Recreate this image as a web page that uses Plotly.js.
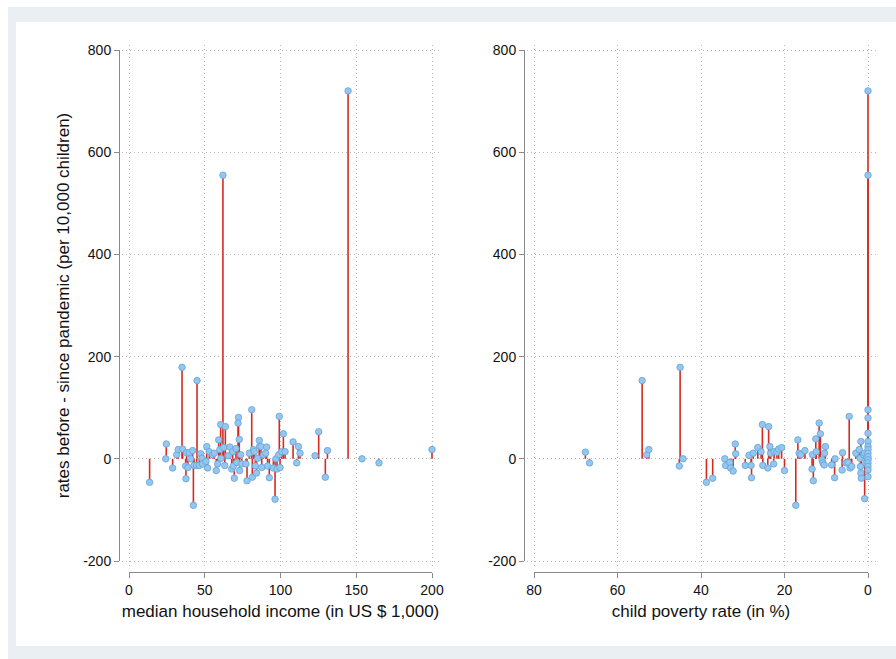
<!DOCTYPE html>
<html>
<head>
<meta charset="utf-8">
<script src="https://cdn.plot.ly/plotly-3.0.1.min.js"></script>
<style>html,body{margin:0;padding:0;background:#fff;}#chart{width:896px;height:659px;}</style>
</head>
<body>
<div id="chart"></div>
<script>
// ---- data ----
const incomeK = [13.6,24.6,24.3,28.8,31.5,32.5,35,35.4,37.4,37.6,38,38.9,39.8,40.7,42,42.5,42.9,44.9,44.7,46.4,47.3,48.2,48.6,50.8,51.3,51.9,53,55.2,56.3,57.6,58.5,59.2,60,60.5,60.7,62,62.5,63.6,63.2,65.5,66.6,67.8,68.4,68.9,69.5,70.6,71.1,72.3,72.0,72.8,73.0,73.7,74.4,77.2,77.9,79.4,81,81.4,82.1,82.7,83.4,84.2,84.9,86,86.2,87.1,87.6,88.7,90.2,90.9,91.5,92.6,95.3,96.4,97,97.7,99.2,98.8,99.7,100.8,101.9,103,108.3,110.7,111.8,112.9,122.8,125.2,129.6,131,144.6,153.8,165,200];
const rateDiffByIncome = [-46,29,0,-18,8,18,179,19,-14,-39,12,-17,12,0,16,-91,-13,153,-13,-13,10,1,-10,-5,24,-18,14,8,11,-23,-10,37,18,67,1,555,22,63,-13,6,23,-20,14,-14,-38,20,-7,81,70,38,-23,8,-10,-10,-43,11,96,-36,18,14,-14,-28,1,36,24,24,-17,8,11,23,-14,-37,-18,-79,0,-20,83,8,-17,14,49,14,33,-8,24,11,6,53,-36,16,720,0,-8,18];

const povertyPct = [67.7,66.7,54.1,53.0,52.5,45.0,45.2,44.3,38.7,37.2,34.3,34.1,33.1,32.9,32.3,31.8,31.7,29.4,28.5,28.0,27.9,27.5,26.4,25.6,25.3,25.2,24.0,23.8,23.5,23.3,22.6,22.5,21.8,21.4,20.7,20.0,17.3,16.8,16.5,16.1,15.1,13.4,13.1,13.3,12.5,12.4,11.7,11.4,11.0,10.8,10.4,10.2,10.5,8.7,8.0,7.9,6.1,6.2,5.3,4.8,4.5,4.3,3.9,2.9,2.1,1.9,1.7,1.8,1.7,1.6,1.1,0.8,0.8,0.5,0.3,0,0,0,0,0,0,0,0,0,0,0,0,0,0,0];
const rateDiffByPoverty = [13,-8,153,8,18,179,-14,0,-46,-38,0,-13,-7,-18,-24,29,10,-13,7,-13,-37,11,22,14,67,-13,-18,63,24,11,-10,14,13,19,22,-23,-91,37,11,8,16,-20,-43,8,39,14,70,49,-2,-8,11,24,-12,-12,-37,0,12,-22,-8,-7,83,-18,-15,11,18,1,34,-15,-28,-38,8,-78,11,-8,3,720,555,96,80,50,34,24,18,11,4,-2,-8,-15,-22,-35];

const incomeTicks = [0,50,100,150,200];
const incomeTickLabels = ['0','50','100','150','200'];
const povertyTicks = [0,20,40,60,80];
const povertyTickLabels = ['0','20','40','60','80'];
const rateTicks = [-200,0,200,400,600,800];
const rateTickLabels = ['-200','0','200','400','600','800'];

const yTitle = 'rates before - since pandemic (per 10,000 children)';
const xTitleIncome = 'median household income (in US $ 1,000)';
const xTitlePoverty = 'child poverty rate (in %)';

// ---- geometry helpers (pixels -> paper fractions) ----
const W = 896, H = 659;
const fx = p => p / W;
const fy = p => 1 - p / H;

const yTopPx = 50, yBotPx = 561;
const yPerPx = 1000 / (yBotPx - yTopPx);
const gridTop = 45, gridBot = 567;
const yRangeGrid = [-200 - (gridBot - yBotPx) * yPerPx, 800 + (yTopPx - gridTop) * yPerPx];

const L0 = 129, L1 = 432;
const lPer = 200 / (L1 - L0);
const lg0 = 122, lg1 = 440;
const xRangeLeft = [0 - (L0 - lg0) * lPer, 200 + (lg1 - L1) * lPer];

const R0 = 534, R1 = 868;
const rPer = 80 / (R1 - R0);
const rg0 = 527, rg1 = 876;
const xRangeRight = [80 + (R0 - rg0) * rPer, 0 - (rg1 - R1) * rPer];

function stems(vals) {
  return {
    type: 'data', symmetric: false, visible: true,
    array: vals.map(v => v < 0 ? -v : 0),
    arrayminus: vals.map(v => v > 0 ? v : 0),
    width: 0, thickness: 1.6, color: '#d62a20'
  };
}
const marker = {size: 6.5, color: '#94c6ee', line: {color: '#64a3da', width: 0.8}};

const traces = [
  {type: 'scatter', mode: 'markers', x: incomeK, y: rateDiffByIncome, xaxis: 'x', yaxis: 'y',
   marker: marker, error_y: stems(rateDiffByIncome), cliponaxis: false, hoverinfo: 'x+y', showlegend: false},
  {type: 'scatter', mode: 'markers', x: povertyPct, y: rateDiffByPoverty, xaxis: 'x2', yaxis: 'y2',
   marker: marker, error_y: stems(rateDiffByPoverty), cliponaxis: false, hoverinfo: 'x+y', showlegend: false},
  {type: 'scatter', mode: 'markers', x: [], y: [], xaxis: 'x3', yaxis: 'y3', showlegend: false, hoverinfo: 'skip'},
  {type: 'scatter', mode: 'markers', x: [], y: [], xaxis: 'x4', yaxis: 'y4', showlegend: false, hoverinfo: 'skip'}
];

const font = 'Liberation Sans, Arial, Helvetica, sans-serif';
const gridAxis = {
  showgrid: true, gridcolor: '#b8b8b8', griddash: '1px,3px', gridwidth: 1,
  zeroline: false, showline: false, ticks: '', showticklabels: false, tickmode: 'array', fixedrange: true
};
const tickAxis = {
  showgrid: false, zeroline: false, showline: true, linecolor: '#8a8a8a', linewidth: 1,
  ticks: 'outside', ticklen: 5, tickwidth: 1, tickcolor: '#8a8a8a', tickmode: 'array',
  tickfont: {family: font, size: 14, color: '#111'}, anchor: 'free', fixedrange: true
};

const layout = {
  width: W, height: H,
  margin: {l: 0, r: 0, t: 0, b: 0},
  paper_bgcolor: '#ffffff', plot_bgcolor: 'rgba(0,0,0,0)',
  showlegend: false,
  font: {family: font, color: '#111'},
  xaxis: Object.assign({}, gridAxis, {domain: [fx(lg0), fx(lg1)], range: xRangeLeft, tickvals: incomeTicks, anchor: 'y'}),
  yaxis: Object.assign({}, gridAxis, {domain: [fy(gridBot), fy(gridTop)], range: yRangeGrid, tickvals: rateTicks, anchor: 'x'}),
  xaxis2: Object.assign({}, gridAxis, {domain: [fx(rg0), fx(rg1)], range: xRangeRight, tickvals: povertyTicks, anchor: 'y2'}),
  yaxis2: Object.assign({}, gridAxis, {domain: [fy(gridBot), fy(gridTop)], range: yRangeGrid, tickvals: rateTicks, anchor: 'x2'}),
  xaxis3: Object.assign({}, tickAxis, {domain: [fx(L0), fx(L1)], range: [0, 200], position: fy(572),
    tickvals: incomeTicks, ticktext: incomeTickLabels,
    title: {text: xTitleIncome, font: {family: font, size: 17, color: '#111'}, standoff: 8}}),
  yaxis3: Object.assign({}, tickAxis, {domain: [fy(yBotPx), fy(yTopPx)], range: [-200, 800], position: fx(119),
    tickvals: rateTicks, ticktext: rateTickLabels,
    title: {text: yTitle, font: {family: font, size: 17, color: '#111'}, standoff: 8}}),
  xaxis4: Object.assign({}, tickAxis, {domain: [fx(R0), fx(R1)], range: [80, 0], position: fy(572),
    tickvals: povertyTicks, ticktext: povertyTickLabels,
    title: {text: xTitlePoverty, font: {family: font, size: 17, color: '#111'}, standoff: 8}}),
  yaxis4: Object.assign({}, tickAxis, {domain: [fy(yBotPx), fy(yTopPx)], range: [-200, 800], position: fx(524),
    tickvals: rateTicks, ticktext: rateTickLabels}),
  shapes: [
    {type: 'rect', xref: 'paper', yref: 'paper', layer: 'below', x0: fx(8), x1: fx(896), y0: fy(659), y1: fy(7),
     fillcolor: '#e9eff3', line: {width: 0}},
    {type: 'rect', xref: 'paper', yref: 'paper', layer: 'below', x0: fx(16), x1: fx(896), y0: fy(646), y1: fy(22),
     fillcolor: '#ffffff', line: {width: 0}}
  ]
};

Plotly.newPlot('chart', traces, layout, {displayModeBar: false, staticPlot: true});
</script>
</body>
</html>
